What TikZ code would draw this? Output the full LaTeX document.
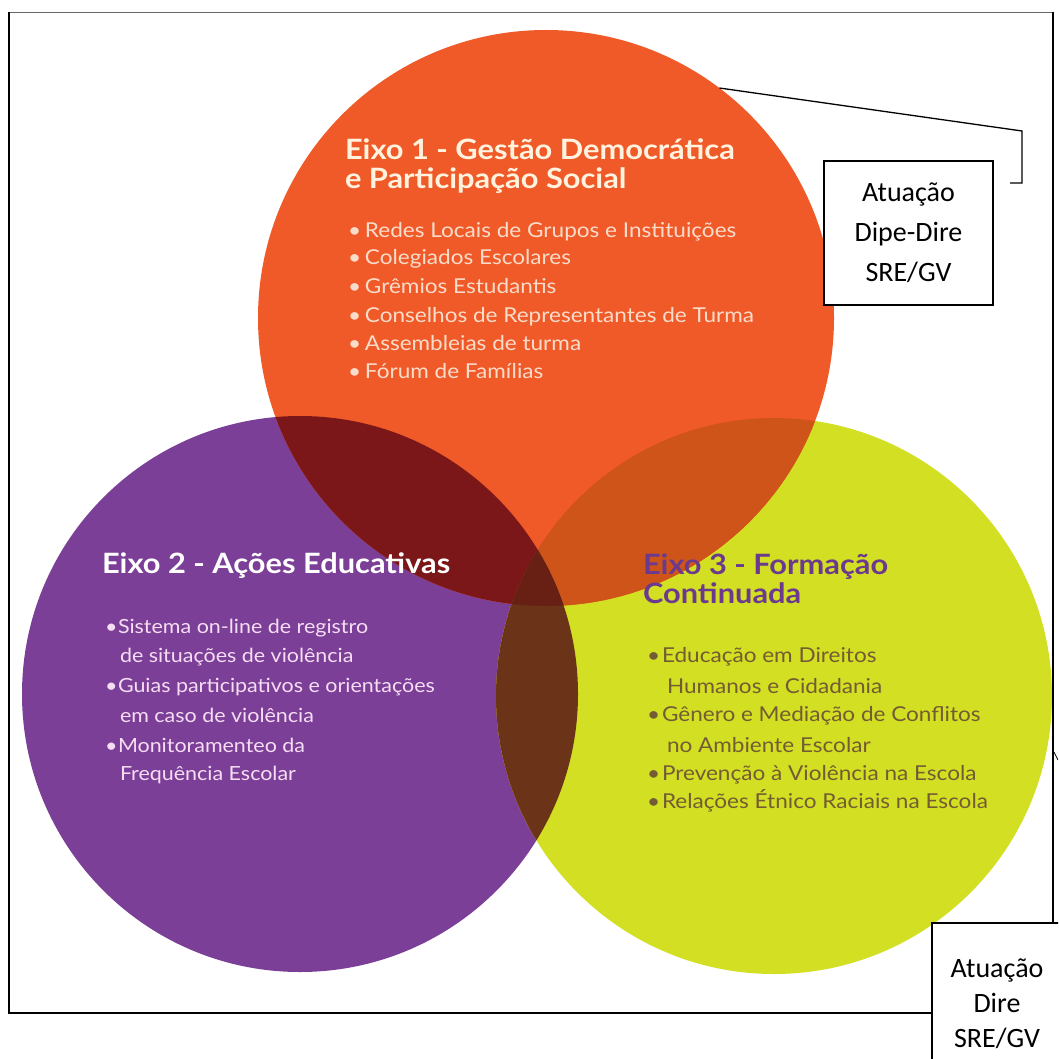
\documentclass[tikz,border=0pt]{standalone}
\usepackage{fontspec}
\setmainfont{Lato}
\newfontfamily\wfont{Lato}[FakeStretch=1.1]
\newfontfamily\calfont{Carlito}
\definecolor{cO}{HTML}{F05A28}
\definecolor{cP}{HTML}{7C3F97}
\definecolor{cY}{HTML}{D3DF22}
\definecolor{cOP}{HTML}{7B1719}
\definecolor{cOY}{HTML}{CF5419}
\definecolor{cPY}{HTML}{6B3418}
\definecolor{cOPY}{HTML}{682015}
\definecolor{tOneT}{HTML}{FFF3E0}
\definecolor{tOneI}{HTML}{FADCCB}
\definecolor{tTwoI}{HTML}{F5DDF3}
\definecolor{tThreeT}{HTML}{6B3A8E}
\definecolor{tThreeI}{HTML}{735C34}
\newcommand{\bulx}[2]{\makebox[#1pt][l]{•}#2}
\newcommand{\contx}[2]{\hspace*{#1pt}#2}
\begin{document}
\begin{tikzpicture}[x=1pt,y=-1pt,
  disc/.style={circle, inner sep=0pt, outer sep=0pt, minimum size=#1},
  lbl/.style={anchor=base west, inner sep=0pt, outer sep=0pt},
  titleA/.style={lbl, text=tOneT, font=\wfont\bfseries\fontsize{28}{25}\selectfont},
  itemA/.style={lbl, text=tOneI, font=\wfont\fontsize{20.5}{24}\selectfont},
  titleB/.style={lbl, text=white, font=\wfont\bfseries\fontsize{28}{25}\selectfont},
  itemB/.style={lbl, text=tTwoI, font=\wfont\fontsize{19.5}{24}\selectfont},
  titleC/.style={lbl, text=tThreeT, font=\wfont\bfseries\fontsize{28}{25}\selectfont},
  itemC/.style={lbl, text=tThreeI, font=\wfont\fontsize{20.5}{24}\selectfont},
  infobox/.style={draw=black, line width=1.3pt, fill=white, inner sep=0pt},
  boxtext/.style={inner sep=0pt, align=center, font=\calfont\fontsize{28}{40}\selectfont},
  frame/.style={line width=1.1pt, draw=black},
  link/.style={line width=1.3pt, draw=black}
]
\useasboundingbox (0,0) rectangle (1058,1059);
\clip (0,0) rectangle (1058,1059);
\fill[white] (0,0) rectangle (1058,1059);

% circle centres
\coordinate (pO) at (546,318);
\coordinate (pP) at (300,694);
\coordinate (pY) at (774,696);

% discs
\node[disc=556pt, fill=cP] (purple) at (pP) {};
\node[disc=556pt, fill=cY] (yellow) at (pY) {};
\node[disc=576pt, fill=cO] (orange) at (pO) {};

% overlaps
\begin{scope}
  \clip (pO) circle[radius=288pt];
  \fill[cOP] (pP) circle[radius=278pt];
  \fill[cOY] (pY) circle[radius=278pt];
\end{scope}
\begin{scope}
  \clip (pP) circle[radius=278pt];
  \fill[cPY] (pY) circle[radius=278pt];
\end{scope}
\begin{scope}
  \clip (pP) circle[radius=278pt];
  \clip (pY) circle[radius=278pt];
  \fill[cOPY] (pO) circle[radius=288pt];
\end{scope}

% Eixo 1
\node[titleA] (eOneTa) at (345,160) {Eixo 1 - Gestão Democrática};
\node[titleA] (eOneTb) at (345,189) {e Participação Social};
\node[itemA] (eOneA) at (348,237) {\bulx{17}{Redes Locais de Grupos e Instituições}};
\node[itemA] (eOneB) at (348,265) {\bulx{17}{Colegiados Escolares}};
\node[itemA] (eOneC) at (348,293) {\bulx{17}{Grêmios Estudantis}};
\node[itemA] (eOneD) at (348,322) {\bulx{17}{Conselhos de Representantes de Turma}};
\node[itemA] (eOneE) at (348,350) {\bulx{17}{Assembleias de turma}};
\node[itemA] (eOneF) at (348,378) {\bulx{17}{Fórum de Famílias}};

% Eixo 2
\node[titleB] (eTwoT) at (102,573) {Eixo 2 - Ações Educativas};
\node[itemB] (eTwoA) at (105,633) {\bulx{13}{Sistema on-line de registro}};
\node[itemB] (eTwoB) at (105,662) {\contx{15}{de situações de violência}};
\node[itemB] (eTwoC) at (105,692) {\bulx{13}{Guias participativos e orientações}};
\node[itemB] (eTwoD) at (105,722) {\contx{15}{em caso de violência}};
\node[itemB] (eTwoE) at (105,752) {\bulx{13}{Monitoramenteo da}};
\node[itemB] (eTwoF) at (105,780) {\contx{15}{Frequência Escolar}};

% Eixo 3
\node[titleC] (eThreeTa) at (643,574) {Eixo 3 - Formação};
\node[titleC] (eThreeTb) at (643,603) {Continuada};
\node[itemC] (eThreeA) at (647,662) {\bulx{15}{Educação em Direitos}};
\node[itemC] (eThreeB) at (647,693) {\contx{20}{Humanos e Cidadania}};
\node[itemC] (eThreeC) at (647,721) {\bulx{15}{Gênero e Mediação de Conflitos}};
\node[itemC] (eThreeD) at (647,752) {\contx{20}{no Ambiente Escolar}};
\node[itemC] (eThreeE) at (647,780) {\bulx{15}{Prevenção à Violência na Escola}};
\node[itemC] (eThreeF) at (647,808) {\bulx{15}{Relações Étnico Raciais na Escola}};

% outer frame
\coordinate (fTL) at (9,12);
\coordinate (fTR) at (1053,12);
\coordinate (fRB) at (1053,923);
\coordinate (fBL) at (9,1013);
\coordinate (fBR) at (932,1013);
\draw[line width=0.9pt, draw=black!60] (fTL) -- (fTR);
\draw[frame] (fTR) -- (fRB);
\draw[line width=2.4pt] (fTL) -- (fBL) -- (fBR);

% info boxes
\node[infobox, minimum width=169pt, minimum height=144pt, boxtext] (boxA) at (908.5,233) {Atuação\\Dipe-Dire\\SRE/GV};
\node[infobox, minimum width=140pt, minimum height=180pt] (boxB) at (1002,1013) {};
\node[boxtext, font=\calfont\fontsize{28}{35}\selectfont, anchor=base] (boxBtext) at (997,1047) {Atuação\\Dire\\SRE/GV};

% connector from orange disc to bracket
\coordinate (kA) at (1022,131);
\coordinate (kB) at (1022,183);
\coordinate (kC) at (1010,183);
\draw[link] (orange.53) -- (kA) -- (kB) -- (kC);

% small stroke at right edge
\coordinate (tA) at (1054,752);
\coordinate (tB) at (1058,760);
\draw[line width=0.8pt] (tA) -- (tB);
\end{tikzpicture}
\end{document}
